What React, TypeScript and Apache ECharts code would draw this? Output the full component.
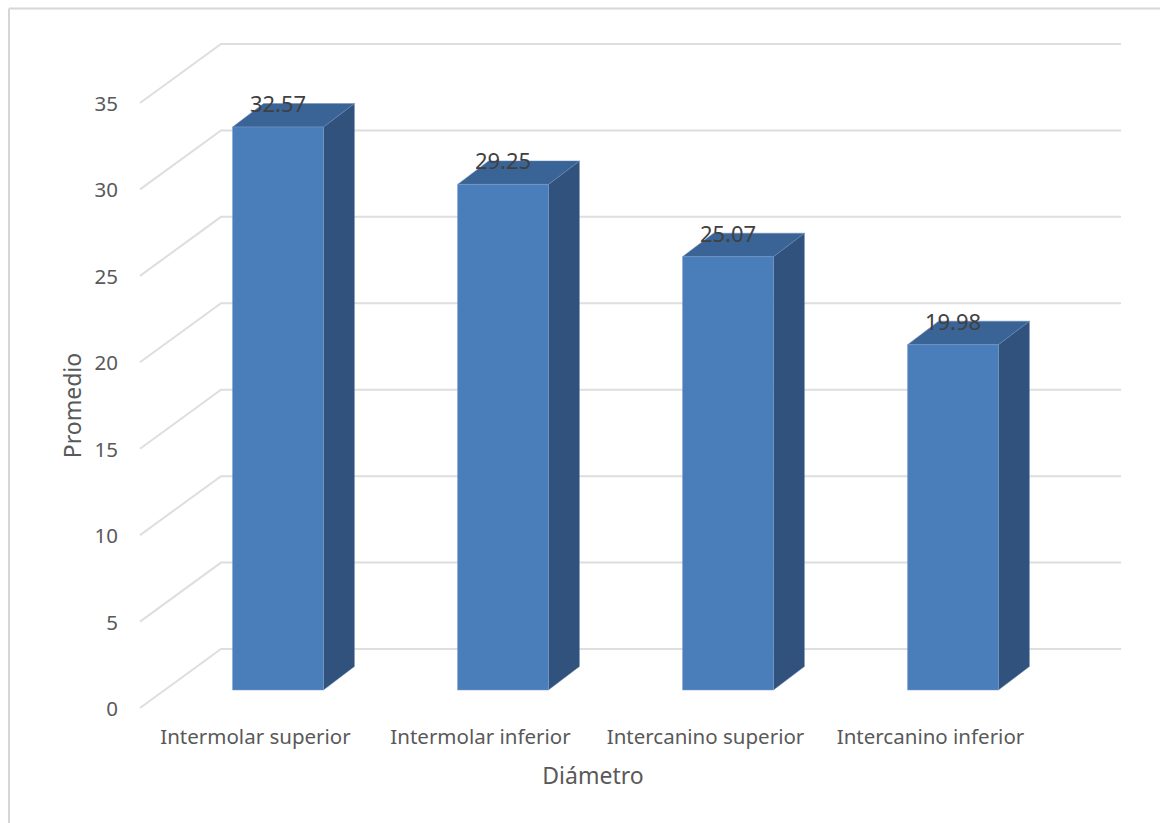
import React, { useEffect, useRef } from "react";
import * as echarts from "echarts";

// Mean diameter (mm) per arch measurement
const categories = [
  "Intermolar superior",
  "Intermolar inferior",
  "Intercanino superior",
  "Intercanino inferior",
];
const promedios = [32.57, 29.25, 25.07, 19.98];
const yTicks = [0, 5, 10, 15, 20, 25, 30, 35];

// Pseudo-3D geometry (pixels): depth of the floor and of each bar
const WALL_DX = 78;
const WALL_DY = 59;
const FRONT_DX = 22.5;
const FRONT_DY = 18;
const BAR_DX = 31;
const BAR_DY = 23.5;
const BAR_RATIO = 0.404;

const FONT = "'Noto Sans', 'Open Sans', sans-serif";
const C_FRONT = "#4a7ebb";
const C_SIDE = "#30527c";
const C_TOP = "#3a6396";
const C_GRID = "#dedede";

export default function App() {
  const ref = useRef<HTMLDivElement>(null);

  useEffect(() => {
    if (!ref.current) return;
    const chart = echarts.init(ref.current, null, { renderer: "svg" });

    const option: any = {
      animation: false,
      backgroundColor: "#ffffff",
      grid: { left: 143, right: 117, top: 103, bottom: 115 },
      xAxis: {
        type: "category",
        data: categories,
        axisLine: { show: false },
        axisTick: { show: false },
        axisLabel: {
          color: "#595959",
          fontFamily: FONT,
          fontSize: 20.5,
          margin: 17,
          interval: 0,
        },
        name: "Diámetro",
        nameLocation: "middle",
        nameGap: 55,
        nameTextStyle: { color: "#595959", fontFamily: FONT, fontSize: 23 },
      },
      yAxis: {
        type: "value",
        min: 0,
        max: 35,
        interval: 5,
        axisLine: { show: false },
        axisTick: { show: false },
        splitLine: { show: false },
        axisLabel: { color: "#595959", fontFamily: FONT, fontSize: 20.5, margin: 25 },
        name: "Promedio",
        nameLocation: "middle",
        nameGap: 59,
        nameTextStyle: { color: "#595959", fontFamily: FONT, fontSize: 23 },
      },
      graphic: [
        {
          type: "line",
          shape: { x1: 9, y1: 8.5, x2: 1160, y2: 8.5 },
          style: { stroke: "#d6d6d6", lineWidth: 2 },
          silent: true,
        },
        {
          type: "line",
          shape: { x1: 9, y1: 8.5, x2: 9, y2: 823 },
          style: { stroke: "#d6d6d6", lineWidth: 2 },
          silent: true,
        },
      ],
      series: [
        {
          // back wall gridlines with their floor diagonals
          type: "custom",
          z: 1,
          silent: true,
          data: yTicks.map((v) => [0, v]),
          renderItem: (params: any, api: any) => {
            const cs = params.coordSys;
            const y = api.coord([0, api.value(1)])[1];
            const left = cs.x;
            const right = cs.x + cs.width;
            return {
              type: "polyline",
              shape: {
                points: [
                  [left - 3, y],
                  [left + WALL_DX, y - WALL_DY],
                  [right + WALL_DX, y - WALL_DY],
                ],
              },
              style: { stroke: C_GRID, lineWidth: 2, fill: "none" },
            };
          },
        },
        {
          type: "custom",
          z: 2,
          data: promedios.map((v, i) => [i, v]),
          renderItem: (params: any, api: any) => {
            const idx = api.value(0);
            const val = api.value(1);
            const base = api.coord([idx, 0]);
            const top = api.coord([idx, val]);
            const band = api.size([1, 0])[0];
            const w = band * BAR_RATIO;
            const x0 = base[0] - w / 2 + FRONT_DX;
            const x1 = x0 + w;
            const y0 = base[1] - FRONT_DY;
            const y1 = top[1] - FRONT_DY;
            return {
              type: "group",
              children: [
                {
                  type: "polygon",
                  shape: {
                    points: [
                      [x1, y1],
                      [x1 + BAR_DX, y1 - BAR_DY],
                      [x1 + BAR_DX, y0 - BAR_DY],
                      [x1, y0],
                    ],
                  },
                  style: { fill: C_SIDE, stroke: "rgba(110,140,185,0.45)", lineWidth: 1 },
                },
                {
                  type: "polygon",
                  shape: {
                    points: [
                      [x0, y1],
                      [x0 + BAR_DX, y1 - BAR_DY],
                      [x1 + BAR_DX, y1 - BAR_DY],
                      [x1, y1],
                    ],
                  },
                  style: { fill: C_TOP, stroke: "rgba(110,140,185,0.45)", lineWidth: 1 },
                },
                {
                  type: "rect",
                  shape: { x: x0, y: y1, width: w, height: y0 - y1 },
                  style: { fill: C_FRONT, stroke: "rgba(120,155,205,0.5)", lineWidth: 1 },
                },
                {
                  type: "text",
                  x: x0 + w / 2,
                  y: y1 - 24,
                  style: {
                    text: val.toFixed(2),
                    align: "center",
                    verticalAlign: "middle",
                    fill: "#404040",
                    font: `22px ${FONT}`,
                  },
                },
              ],
            };
          },
        },
      ],
    };

    chart.setOption(option);
    return () => chart.dispose();
  }, []);

  return (
    <div
      ref={ref}
      style={{ position: "fixed", left: 0, top: 0, width: 1160, height: 823, background: "#fff" }}
    />
  );
}
